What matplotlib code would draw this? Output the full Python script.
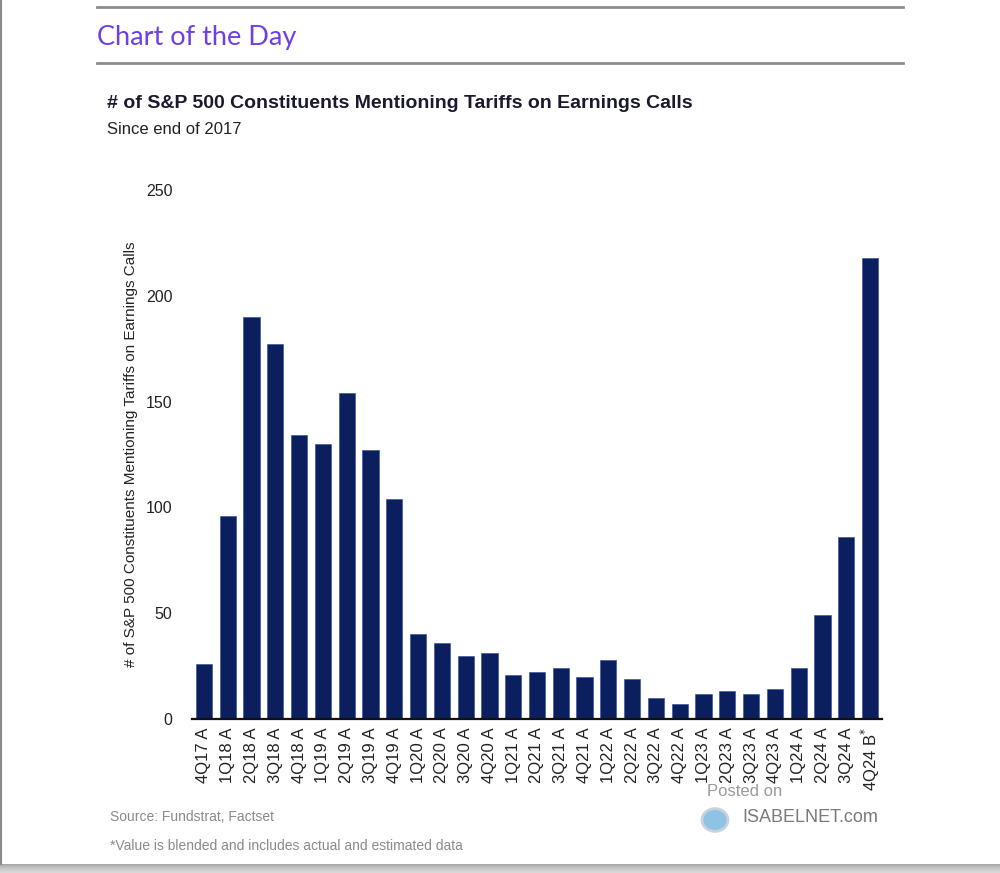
import matplotlib
matplotlib.use("Agg")
import matplotlib.pyplot as plt
from matplotlib import font_manager as fm
from matplotlib.lines import Line2D
from matplotlib.patches import Rectangle, Circle

quarters = ["4Q17 A", "1Q18 A", "2Q18 A", "3Q18 A", "4Q18 A", "1Q19 A", "2Q19 A", "3Q19 A",
            "4Q19 A", "1Q20 A", "2Q20 A", "3Q20 A", "4Q20 A", "1Q21 A", "2Q21 A", "3Q21 A",
            "4Q21 A", "1Q22 A", "2Q22 A", "3Q22 A", "4Q22 A", "1Q23 A", "2Q23 A", "3Q23 A",
            "4Q23 A", "1Q24 A", "2Q24 A", "3Q24 A", r"4Q24 B$^{*}$"]
mentions = [26, 96, 190, 177, 134, 130, 154, 127, 104, 40, 36, 30, 31, 21, 22, 24, 20, 28, 19,
            10, 7, 12, 13, 12, 14, 24, 49, 86, 218]
yticks = [0, 50, 100, 150, 200, 250]

avail = {f.name for f in fm.fontManager.ttflist}
narrow = "Liberation Sans Narrow" if "Liberation Sans Narrow" in avail else "Liberation Sans"
base = "Liberation Sans" if "Liberation Sans" in avail else "DejaVu Sans"
head = "Lato" if "Lato" in avail else base
plt.rcParams["font.family"] = [base, "DejaVu Sans"]

W, H = 1000, 873
fig = plt.figure(figsize=(W / 100, H / 100), dpi=100)

def fx(x):
    return x / W

def fy(y):
    return 1 - y / H

def ft(x, y, s, **kw):
    fig.text(fx(x), fy(y), s, **kw)

# page frame (bottom shadow gradient + left edge)
shades = ["#a8a8a8", "#b0b0b0", "#b8b8b8", "#c0c0c0", "#c6c6c6", "#cccccc", "#d0d0d0",
          "#d4d4d4", "#d8d8d8", "#dcdcdc"]
for i, c in enumerate(shades):
    fig.add_artist(Rectangle((0, fy(864 + i + 1)), 1, 1 / H, transform=fig.transFigure,
                             color=c, lw=0, zorder=0))
fig.add_artist(Rectangle((0, 0), 1, fy(873), transform=fig.transFigure, color="#dcdcdc", lw=0, zorder=0))
fig.add_artist(Line2D([fx(1), fx(1)], [fy(0), fy(864)], transform=fig.transFigure, color="#8a8a8a", lw=1.5))

# header lines
for yy in (7, 63):
    fig.add_artist(Line2D([fx(97), fx(903)], [fy(yy), fy(yy)], transform=fig.transFigure,
                          color="#8c8c8c", lw=2))
ft(97, 37, "Chart of the Day", color="#6f3fe6", fontsize=19.5, family=[head, "DejaVu Sans"],
   va="center", ha="left")

ft(107, 104, "# of S&P 500 Constituents Mentioning Tariffs on Earnings Calls", fontsize=14,
   fontweight="bold", color="#1a1a2e", family=[narrow, "DejaVu Sans"], va="center", ha="left")
ft(107, 129, "Since end of 2017", fontsize=12, color="#222222",
   family=[narrow, "DejaVu Sans"], va="center", ha="left")

ax = fig.add_axes([fx(192), fy(719), fx(882) - fx(192), fy(190) - fy(719)])
x = list(range(len(mentions)))
ax.bar(x, mentions, width=0.68, color="#0b1f5e", edgecolor="#2a4a9a", linewidth=0.4, zorder=2)
ax.set_xlim(-0.5, len(mentions) - 0.5)
ax.set_ylim(0, 250)
ax.set_yticks(yticks)
ax.set_yticklabels([str(v) for v in yticks], fontsize=11.5, color="#222222")
ax.set_xticks(x)
ax.set_xticklabels(quarters, rotation=90, fontsize=12, color="#222222")
ax.tick_params(axis="both", length=0)
ax.tick_params(axis="y", pad=14)
ax.tick_params(axis="x", pad=6)
for s in ("left", "right", "top"):
    ax.spines[s].set_visible(False)
ax.spines["bottom"].set_linewidth(1.6)
ax.spines["bottom"].set_color("#111111")
ax.set_ylabel("# of S&P 500 Constituents Mentioning Tariffs on Earnings Calls", fontsize=11,
              color="#222222", family=[narrow, "DejaVu Sans"], labelpad=6)

# footer
ft(110, 817, "Source: Fundstrat, Factset", fontsize=10, color="#8a8a8a",
   family=[narrow, "DejaVu Sans"], va="center", ha="left")
ft(110, 846, "*Value is blended and includes actual and estimated data", fontsize=10, color="#8a8a8a",
   family=[narrow, "DejaVu Sans"], va="center", ha="left")
ft(707, 792, "Posted on", fontsize=12, color="#9a9a9a", family=[narrow, "DejaVu Sans"],
   va="center", ha="left")
ft(742, 817, "ISABELNET.com", fontsize=13, color="#7a7a7a", family=[narrow, "DejaVu Sans"],
   va="center", ha="left")
fig.add_artist(Circle((fx(715), fy(820)), 0.013, transform=fig.transFigure,
                      facecolor="#8fc3e6", edgecolor="#c9d3dc", lw=2))

fig.savefig("out.png", dpi=100)
